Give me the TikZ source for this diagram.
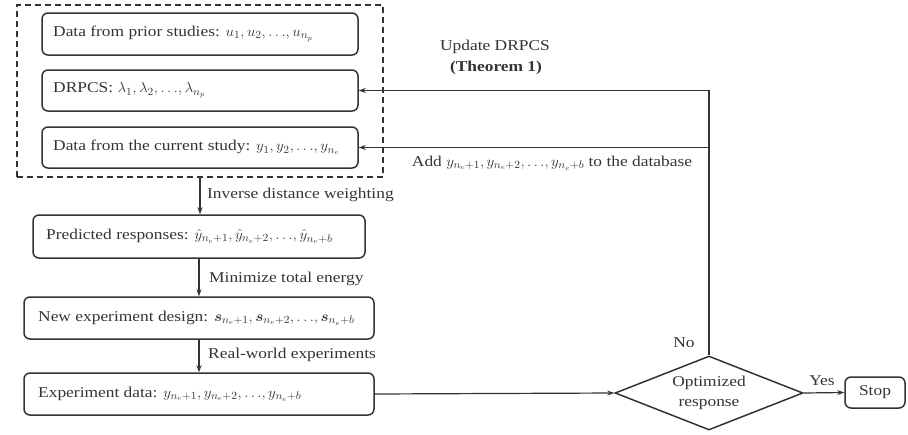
\documentclass[tikz,border=0pt]{standalone}
\usepackage{amsmath}
\usepackage{graphicx}
\usepackage{fontspec}
\setmainfont{Liberation Serif}[FakeStretch=1.16]
\usetikzlibrary{arrows.meta,shapes.geometric}
\newcommand\mth[1]{\scalebox{1.05}[1]{$#1$}}
\newcommand\dts{{\ldots}}
\definecolor{ink}{HTML}{333333}
\begin{document}
\begin{tikzpicture}[x=1pt,y=-1pt,
  font=\fontsize{15}{18}\selectfont,
  every node/.style={text=ink},
  box/.style={draw=ink, line width=1.5pt, rounded corners=6pt, inner sep=0pt},
  txt/.style={anchor=west, inner sep=0pt},
  dbox/.style={draw=ink, line width=1.5pt, dash pattern=on 6pt off 4pt, inner sep=0pt},
  conn/.style={draw=ink, line width=1.2pt, -{Stealth[length=7pt,width=5pt]}},
  lbl/.style={inner sep=1pt}]
\useasboundingbox (0,0) rectangle (908,434);
% dashed database frame
\node[dbox, minimum width=366pt, minimum height=172pt] (db) at (200,91) {};
% boxes inside
\node[box, minimum width=316pt, minimum height=42pt] (p1) at (200,34) {};
\node[box, minimum width=316pt, minimum height=41pt] (p2) at (200,90.5) {};
\node[box, minimum width=316pt, minimum height=41pt] (p3) at (200,147.5) {};
\node[txt] (t1) at (53,34) {Data from prior studies: \mth{u_1, u_2, \dts, u_{n_p}}};
\node[txt] (t2) at (53,90.5) {DRPCS: \mth{\lambda_1, \lambda_2, \dts, \lambda_{n_p}}};
\node[txt] (t3) at (53,147.5) {Data from the current study: \mth{y_1, y_2, \dts, y_{n_e}}};
% pipeline
\node[box, minimum width=332pt, minimum height=43pt] (p4) at (199,236.5) {};
\node[box, minimum width=350pt, minimum height=42pt] (p5) at (199,318) {};
\node[box, minimum width=350pt, minimum height=42pt] (p6) at (199,394) {};
\node[txt] (t4) at (46,236.5) {Predicted responses: \mth{\hat{y}_{n_e+1}, \hat{y}_{n_e+2}, \dts, \hat{y}_{n_e+b}}};
\node[txt] (t5) at (38,318) {New experiment design: \mth{\boldsymbol{s}_{n_e+1}, \boldsymbol{s}_{n_e+2}, \dts, \boldsymbol{s}_{n_e+b}}};
\node[txt] (t6) at (38,394) {Experiment data: \mth{y_{n_e+1}, y_{n_e+2}, \dts, y_{n_e+b}}};
% decision and stop
\node[draw=ink, line width=1.5pt, diamond, aspect=2.5, minimum width=188pt, minimum height=74pt, inner sep=0pt, align=center, font=\fontsize{15}{20}\selectfont] (dec) at (709,393) {Optimized\\response};
\node[box, minimum width=60pt, minimum height=31pt] (stop) at (875,392.5) {Stop};
% connector labels
\node[lbl, anchor=west] (l1) at (206,195) {Inverse distance weighting};
\node[lbl, anchor=west] (l2) at (208,279) {Minimize total energy};
\node[lbl, anchor=west] (l3) at (207,355) {Real-world experiments};
\node[lbl] (l4) at (495,47) {Update DRPCS};
\node[lbl] (l5) at (496,68) {\textbf{(Theorem 1)}};
\node[lbl] (l6) at (552,163) {Add \mth{y_{n_e+1}, y_{n_e+2}, \dts, y_{n_e+b}} to the database};
\node[lbl] (l7) at (684,343) {No};
\node[lbl] (l8) at (822,381) {Yes};
% connectors
\coordinate (c2) at (709,147.5);
\draw[conn] (db.south) -- (db.south |- p4.north);
\draw[conn] (p4.south) -- (p5.north);
\draw[conn] (p5.south) -- (p6.north);
\draw[conn] (p6.east) -- (dec.west);
\draw[conn] (dec.east) -- (stop.west);
\draw[conn] (dec.north) |- (p2.east);
\draw[conn] (c2) -- (p3.east);
\end{tikzpicture}
\end{document}
